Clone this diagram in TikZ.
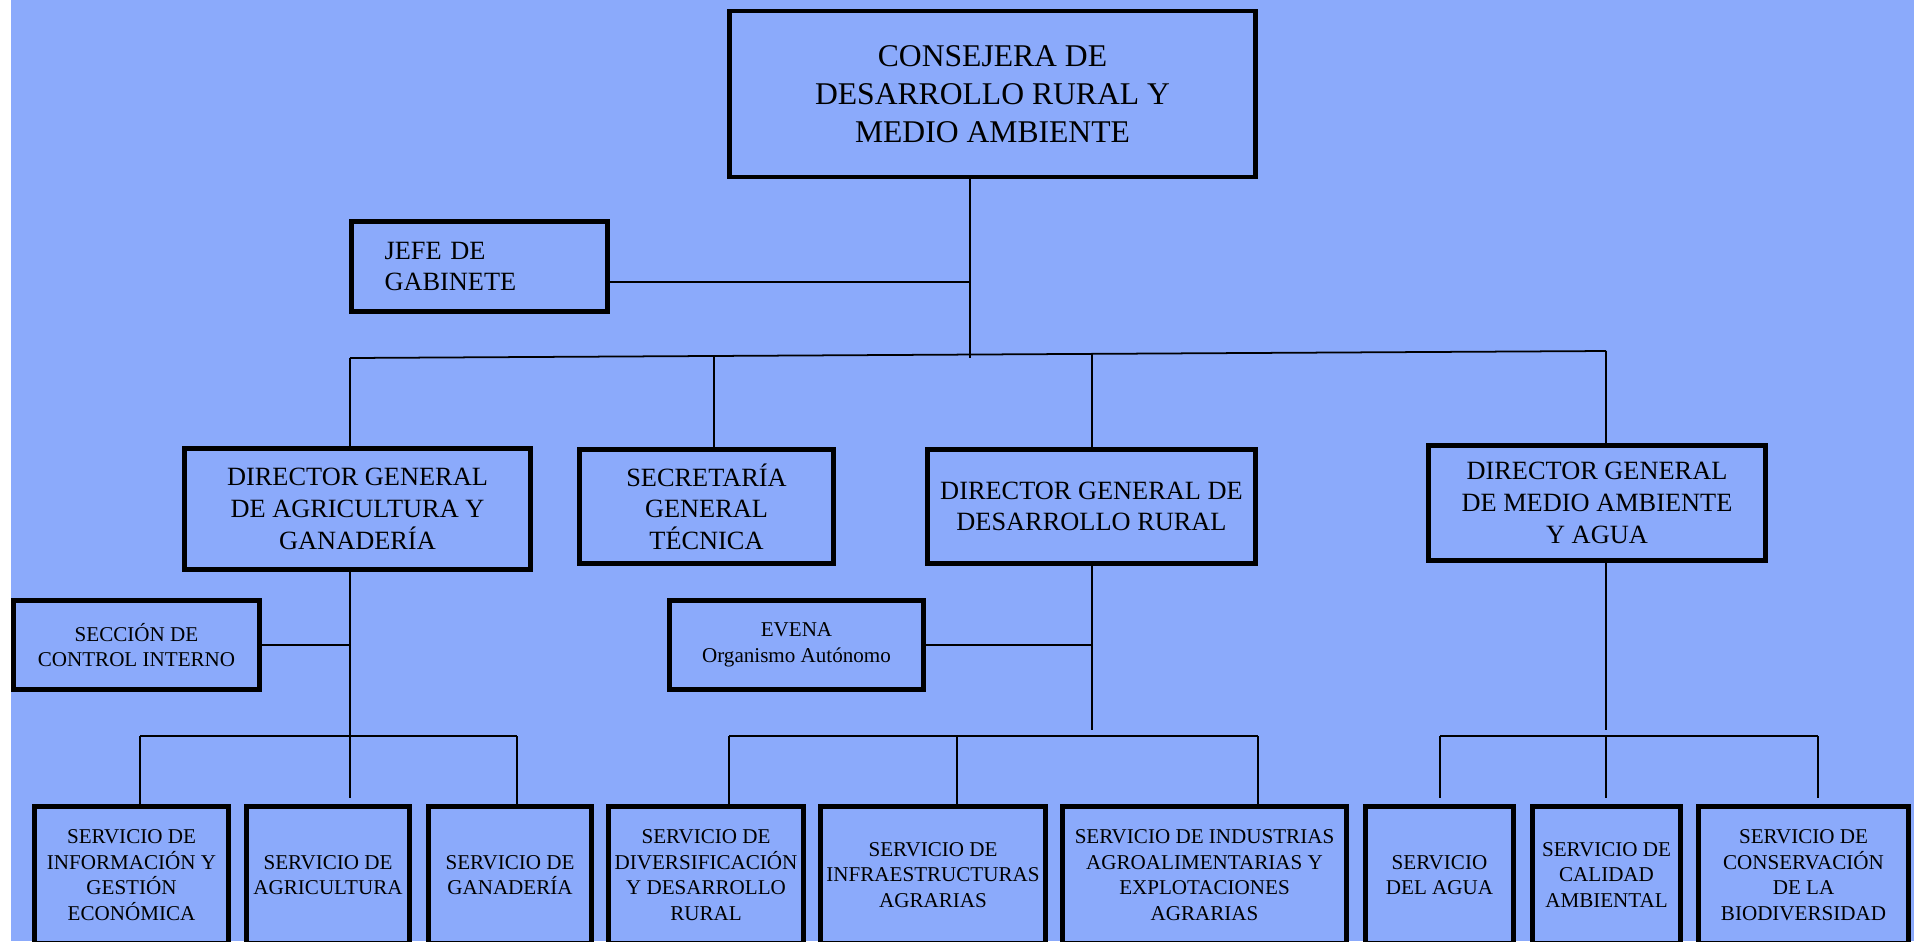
\documentclass[tikz,border=0pt]{standalone}
\usepackage{fontspec}
\setmainfont{Liberation Serif}
\definecolor{fondo}{RGB}{139,170,251}

\begin{document}
\begin{tikzpicture}[x=0.02cm,y=-0.02cm,line width=1pt,
	caja/.style={draw,line width=2.8pt,fill=fondo,align=center,inner sep=0pt},
	grande/.style={font=\fontsize{18}{21.8}\selectfont},
	medio/.style={font=\fontsize{15}{18}\selectfont},
	chico/.style={font=\fontsize{12}{14.5}\selectfont},
	servicio/.style={caja,chico,minimum height=2.74cm},
	corto/.style={shorten >=0.13cm}]
	\useasboundingbox (0,0) rectangle (1914,941);
	\fill[white] (0,0) rectangle (1914,941);
	\fill[fondo] (11,0) rectangle (1914,941);

	% consejera y gabinete
	\node[caja,grande,minimum width=10.52cm,minimum height=3.32cm] (cons) at (992.5,94) {CONSEJERA DE\\DESARROLLO RURAL Y\\MEDIO AMBIENTE};
	\node[caja,medio,align=left,text width=3.8cm,minimum width=5.12cm,minimum height=1.8cm] (jefe) at (479.5,266.5) {JEFE DE\\GABINETE};

	% direcciones
	\begin{scope}[medio,minimum height=2.28cm]
	\node[caja,minimum width=6.92cm,minimum height=2.42cm] (dgagri) at (357.5,509) {DIRECTOR GENERAL\\DE AGRICULTURA Y\\GANADERÍA};
	\node[caja,minimum width=5.08cm] (sgt) at (706.5,506.5) {SECRETARÍA\\GENERAL\\TÉCNICA};
	\node[caja,minimum width=6.56cm] (dgdr) at (1091.5,506.5) {DIRECTOR GENERAL DE\\DESARROLLO RURAL};
	\node[caja,minimum width=6.74cm,minimum height=2.3cm] (dgma) at (1597,503) {DIRECTOR GENERAL\\DE MEDIO AMBIENTE\\Y AGUA};
	\end{scope}

	\node[caja,chico,minimum width=4.92cm,minimum height=1.78cm] (seccion) at (136.5,645) {SECCIÓN DE\\CONTROL INTERNO};
	\node[caja,chico,minimum width=5.08cm,minimum height=1.78cm] (evena) at (796.5,645) {EVENA\\Organismo Autónomo};

	% servicios
	\node[servicio,minimum width=3.88cm] (sinfo) at (131.5,875) {SERVICIO DE\\INFORMACIÓN Y\\GESTIÓN\\ECONÓMICA};
	\node[servicio,minimum width=3.26cm] (sagri) at (328,875) {SERVICIO DE\\AGRICULTURA};
	\node[servicio,minimum width=3.26cm] (sgan) at (510,875) {SERVICIO DE\\GANADERÍA};
	\node[servicio,minimum width=3.9cm] (sdiv) at (706,875) {SERVICIO DE\\DIVERSIFICACIÓN\\Y DESARROLLO\\RURAL};
	\node[servicio,minimum width=4.5cm] (sinfra) at (933,875) {SERVICIO DE\\INFRAESTRUCTURAS\\AGRARIAS};
	\node[servicio,minimum width=5.68cm] (sind) at (1204.5,875) {SERVICIO DE INDUSTRIAS\\AGROALIMENTARIAS Y\\EXPLOTACIONES\\AGRARIAS};
	\node[servicio,minimum width=2.96cm] (sagua) at (1439.5,875) {SERVICIO\\DEL AGUA};
	\node[servicio,minimum width=2.96cm] (scal) at (1606.5,875) {SERVICIO DE\\CALIDAD\\AMBIENTAL};
	\node[servicio,minimum width=4.2cm] (sbio) at (1803.5,875) {SERVICIO DE\\CONSERVACIÓN\\DE LA\\BIODIVERSIDAD};

	% puntos de las lineas
	\coordinate (jg) at (970,282);
	\coordinate (jb) at (970,358);
	\coordinate (bA) at (350,358);
	\coordinate (bB) at (714,356);
	\coordinate (bC) at (1092,354);
	\coordinate (bD) at (1606,351);
	\coordinate (a1) at (140,736);
	\coordinate (a3) at (517,736);
	\coordinate (c1) at (729,736);
	\coordinate (c2) at (957,736);
	\coordinate (c3) at (1258,736);
	\coordinate (d1) at (1440,736);
	\coordinate (d2) at (1606,736);
	\coordinate (d3) at (1818,736);

	\draw (cons.south -| jg) -- (jb);
	\draw (jefe.east |- jg) -- (jg);
	\draw (bA) -- (bD);
	\foreach \j/\n in {bA/dgagri,bB/sgt,bC/dgdr,bD/dgma}
		\draw (\j) -- (\j |- \n.north);

	\draw (seccion.east) -- (seccion.east -| bA);
	\draw[corto] (bA |- dgagri.south) -- (bA |- sagri.north);
	\draw (a1) -- (a3);

	\draw (evena.east) -- (evena.east -| bC);
	\draw[corto] (bC |- dgdr.south) -- (bC |- c1);
	\draw (c1) -- (c3);

	\draw[corto] (bD |- dgma.south) -- (bD |- d1);
	\draw (d1) -- (d3);

	\foreach \j/\n in {a1/sinfo,a3/sgan,c1/sdiv,c2/sinfra,c3/sind}
		\draw (\j) -- (\j |- \n.north);
	\foreach \j/\n in {d1/sagua,d2/scal,d3/sbio}
		\draw[corto] (\j) -- (\j |- \n.north);
\end{tikzpicture}
\end{document}
